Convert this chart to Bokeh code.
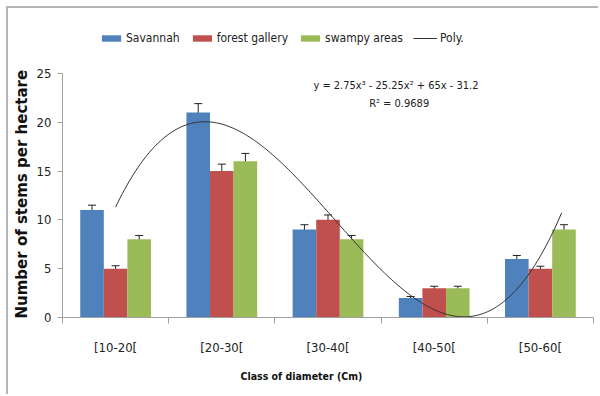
import numpy as np
from bokeh.plotting import figure
from bokeh.models import (ColumnDataSource, Range1d, FixedTicker, Whisker, TeeHead,
                          Legend, LegendItem, Label, Title)
from bokeh.transform import dodge
from bokeh.embed import file_html
from bokeh.resources import INLINE

# ---- data ----
classes = ["[10-20[", "[20-30[", "[30-40[", "[40-50[", "[50-60["]
savannah = [11, 21, 9, 2, 6]
forest_gallery = [5, 15, 10, 3, 5]
swampy_areas = [8, 16, 8, 3, 9]
savannah_err = [0.5, 0.9, 0.5, 0.15, 0.35]
forest_err = [0.3, 0.7, 0.5, 0.2, 0.25]
swampy_err = [0.4, 0.8, 0.4, 0.2, 0.5]
y_ticks = [0, 5, 10, 15, 20, 25]
poly_coef = [2.75, -25.25, 65, -31.2]
poly_x_end = 5.2
equation = "y = 2.75x\u00b3 - 25.25x\u00b2 + 65x - 31.2"
r2_text = "R\u00b2 = 0.9689"
x_title = "Class of diameter (Cm)"
y_title = "Number of stems per hectare"

FONT = "DejaVu Sans Condensed"
BLUE, RED, GREEN = "#4F81BD", "#C0504D", "#9BBB59"

xpos = list(range(1, len(classes) + 1))
src = ColumnDataSource(dict(
    x=xpos,
    sav=savannah, fg=forest_gallery, sw=swampy_areas,
    sav_lo=[v - e for v, e in zip(savannah, savannah_err)],
    sav_hi=[v + e for v, e in zip(savannah, savannah_err)],
    fg_lo=[v - e for v, e in zip(forest_gallery, forest_err)],
    fg_hi=[v + e for v, e in zip(forest_gallery, forest_err)],
    sw_lo=[v - e for v, e in zip(swampy_areas, swampy_err)],
    sw_hi=[v + e for v, e in zip(swampy_areas, swampy_err)],
))

p = figure(width=592, height=388, output_backend="svg", toolbar_location=None,
           x_range=Range1d(0.5, 5.5), y_range=Range1d(0, 30),
           min_border_left=50, min_border_right=7, min_border_top=16, min_border_bottom=79)
p.styles = {"margin-left": "6px", "margin-top": "6px",
            "border-left": "2px solid #b4b4b4", "border-top": "2px solid #b4b4b4"}
p.outline_line_color = None
p.xgrid.visible = False
p.ygrid.visible = False
p.background_fill_color = "white"

off = 0.222
w = 0.222
r1 = p.vbar(x=dodge("x", -off), top="sav", width=w, source=src, fill_color=BLUE, line_color=None)
r2 = p.vbar(x=dodge("x", 0), top="fg", width=w, source=src, fill_color=RED, line_color=None)
r3 = p.vbar(x=dodge("x", off), top="sw", width=w, source=src, fill_color=GREEN, line_color=None)

for d, lo, hi in [(-off, "sav_lo", "sav_hi"), (0, "fg_lo", "fg_hi"), (off, "sw_lo", "sw_hi")]:
    wk = Whisker(base=dodge("x", d), lower=lo, upper=hi, source=src,
                 line_color="#222222", line_width=1,
                 upper_head=TeeHead(size=8, line_color="#222222", line_width=1),
                 lower_head=TeeHead(size=8, line_color="#222222", line_width=1.6))
    p.add_layout(wk)

xs = np.linspace(1, poly_x_end, 200)
ys = np.polyval(poly_coef, xs)
r4 = p.line(xs, ys, line_color="#333333", line_width=1)

# axes
p.xaxis.ticker = FixedTicker(ticks=xpos, minor_ticks=[x + 0.5 for x in [0] + xpos])
p.xaxis.major_label_overrides = {i: c for i, c in zip(xpos, classes)}
p.xaxis.major_tick_line_color = None
p.xaxis.major_tick_out = 0
p.xaxis.minor_tick_out = 6
p.xaxis.minor_tick_in = 0
p.xaxis.minor_tick_line_color = "#a0a0a0"
p.xaxis.axis_line_color = "#a0a0a0"
p.xaxis.major_label_standoff = 16
p.xaxis.major_label_text_font = FONT
p.xaxis.major_label_text_font_size = "13px"
p.xaxis.major_label_text_color = "#222222"

p.yaxis.ticker = FixedTicker(ticks=y_ticks)
p.yaxis.bounds = (y_ticks[0], y_ticks[-1])
p.yaxis.minor_tick_line_color = None
p.yaxis.major_tick_out = 5
p.yaxis.major_tick_in = 0
p.yaxis.major_tick_line_color = "#a0a0a0"
p.yaxis.axis_line_color = "#a0a0a0"
p.yaxis.major_label_standoff = 6
p.yaxis.major_label_text_font = FONT
p.yaxis.major_label_text_font_size = "13px"
p.yaxis.major_label_text_color = "#222222"

p.add_layout(Title(text=x_title, align="left", offset=178, standoff=21,
                   text_font=FONT, text_font_style="bold", text_font_size="10.5px",
                   text_color="#111111"), "below")
p.add_layout(Title(text=y_title, align="left", offset=-1, standoff=5,
                   text_font="DejaVu Sans", text_font_style="bold", text_font_size="15px",
                   text_color="#111111"), "left")

p.add_layout(Label(x=3.64, y=23.75, text=equation, text_align="center", text_baseline="middle",
                   text_font=FONT, text_font_size="11px", text_color="#222222"))
p.add_layout(Label(x=3.67, y=21.9, text=r2_text, text_align="center", text_baseline="middle",
                   text_font=FONT, text_font_size="11px", text_color="#222222"))

legend = Legend(items=[LegendItem(label="Savannah", renderers=[r1]),
                       LegendItem(label="forest gallery", renderers=[r2]),
                       LegendItem(label="swampy areas", renderers=[r3]),
                       LegendItem(label="Poly.", renderers=[r4])],
                orientation="horizontal", location=(37, 271),
                glyph_width=24, glyph_height=8, label_standoff=3, spacing=10,
                padding=0, margin=0, border_line_color=None, background_fill_alpha=0,
                label_text_font=FONT, label_text_font_size="12px", label_text_color="#222222",
                label_height=16)
p.add_layout(legend, "center")

open("out.html", "w").write(file_html(p, INLINE))
